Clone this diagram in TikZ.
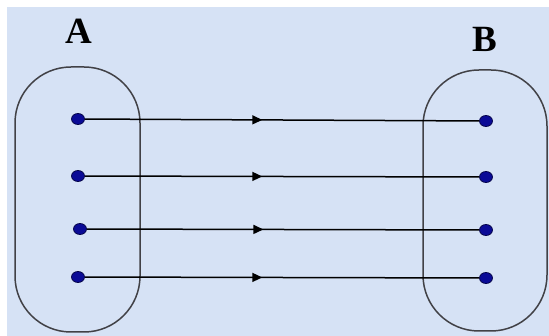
\documentclass[tikz,border=0pt]{standalone}
\usepackage{fontspec}
\setmainfont{Liberation Serif}
\usetikzlibrary{decorations.markings,arrows.meta}
\definecolor{bgc}{RGB}{214,226,245}
\definecolor{dotc}{RGB}{10,10,150}
\definecolor{setc}{RGB}{65,65,70}
\tikzset{
  dotn/.style={ellipse,fill=dotc,draw=dotc!50!black,line width=0.8pt,minimum width=13pt,minimum height=11pt,inner sep=0pt},
  setbox/.style={draw=setc,line width=1.5pt,rounded corners=56pt},
  maparrow/.style={draw=black,line width=1.5pt,postaction={decorate},
    decoration={markings,mark=at position 0.45 with {\arrow{Triangle[length=10pt,width=9pt]}}}},
  lbl/.style={font=\fontsize{37}{40}\selectfont\bfseries,inner sep=0pt}
}
\usetikzlibrary{shapes.geometric}
\begin{document}
\begin{tikzpicture}[x=1pt,y=-1pt]
\useasboundingbox (0,0) rectangle (549,336);
\fill[bgc] (7,7) rectangle (549,336);
\draw[setbox] (15,67) rectangle (140,332);
\draw[setbox] (423,70) rectangle (547,331);
\node[lbl] (A) at (79,31.5) {A};
\node[lbl] (B) at (484.5,39.5) {B};
\node[dotn] (a1) at (78,119) {};
\node[dotn] (a2) at (78,176) {};
\node[dotn] (a3) at (80,229) {};
\node[dotn] (a4) at (78,277) {};
\node[dotn] (b1) at (486,121) {};
\node[dotn] (b2) at (486,177) {};
\node[dotn] (b3) at (486,230) {};
\node[dotn] (b4) at (486,278) {};
\draw[maparrow] (a1) -- (b1);
\draw[maparrow] (a2) -- (b2);
\draw[maparrow] (a3) -- (b3);
\draw[maparrow] (a4) -- (b4);
\end{tikzpicture}
\end{document}
